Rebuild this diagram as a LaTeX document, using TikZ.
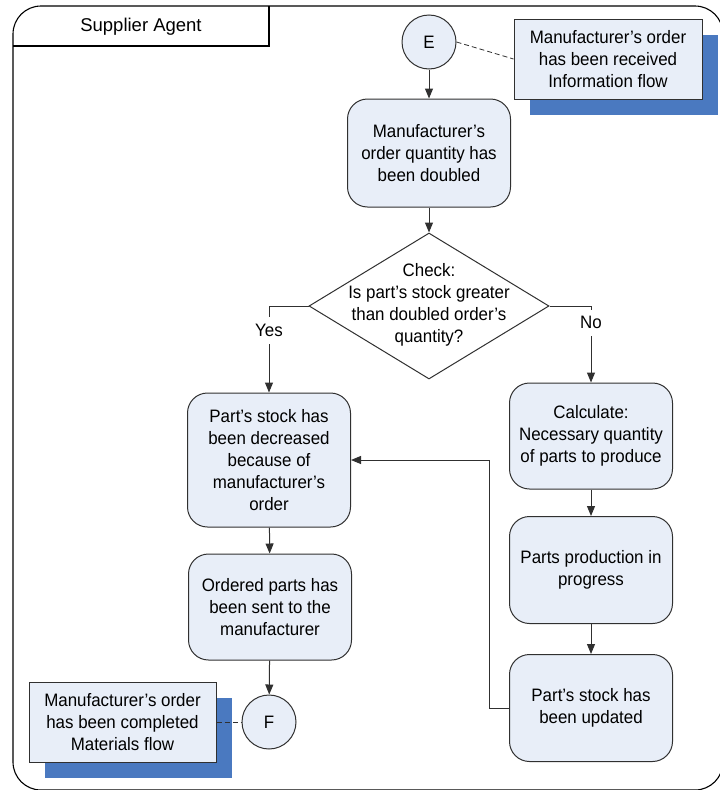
\documentclass[tikz,border=0pt]{standalone}
\usepackage{fontspec}
\setmainfont{Liberation Sans}
\newfontfamily\narrowsans[FakeStretch=0.94]{Liberation Sans}
\usetikzlibrary{arrows.meta,shapes.geometric,shadows}
\definecolor{boxfill}{HTML}{E8EEF8}
\definecolor{boxline}{HTML}{303030}
\definecolor{shadowblue}{HTML}{4A79C0}

\begin{document}
\begin{tikzpicture}[x=1pt,y=-1pt,
  every node/.style={font=\narrowsans\fontsize{18}{22}\selectfont, text=black},
  procbox/.style={draw=boxline, fill=boxfill, rounded corners=20pt, line width=1pt,
    minimum width=163pt, align=center, inner sep=0pt},
  connector/.style={draw=boxline, line width=1pt, circle, fill=boxfill,
    minimum size=54pt, inner sep=0pt},
  callout/.style={draw=boxline, fill=boxfill, line width=1pt, align=center,
    minimum width=188pt, minimum height=80pt, inner sep=0pt,
    drop shadow={shadow xshift=16pt, shadow yshift=-16pt, fill=shadowblue, opacity=1}},
  decision/.style={draw=boxline, fill=white, diamond, line width=1pt,
    minimum width=240pt, minimum height=146pt, inner sep=0pt},
  flow/.style={draw=boxline, line width=1pt, -{Triangle[length=10pt,width=8pt]}},
  note/.style={draw=boxline, line width=0.8pt, dash pattern=on 5pt off 3pt},
  branch/.style={fill=white, inner xsep=2pt, inner ysep=7pt}]

\useasboundingbox (0,0) rectangle (720,790);

% swimlane frame and its title tab
\draw[line width=1.1pt, rounded corners=28pt] (13,6) rectangle (723,790);
\draw[line width=1.1pt] (13,46) -- (269,46) -- (269,6);
\node[font=\fontsize{18.5}{22}\selectfont] (lane) at (141,27) {Supplier Agent};

% start connector and its note
\node[connector] (E) at (429,42) {E};
\node[callout] (noteE) at (608,59) {Manufacturer’s order\\has been received\\Information flow};

% main flow
\node[procbox, minimum height=108pt] (double) at (429,153)
  {Manufacturer’s\\order quantity has\\been doubled};
\node[decision] (check) at (429,306) {};
\node[align=center] (checktext) at (429,305)
  {Check:\\Is part’s stock greater\\than doubled order’s\\quantity?};

\node[procbox, minimum height=134pt] (decrease) at (269,460)
  {Part’s stock has\\been decreased\\because of\\manufacturer’s\\order};
\node[procbox, minimum height=106pt] (sent) at (270,607)
  {Ordered parts has\\been sent to the\\manufacturer};
\node[connector] (F) at (269,722) {F};
\node[callout, minimum width=187pt] (noteF) at (122.5,722)
  {Manufacturer’s order\\has been completed\\Materials flow};

\node[procbox, minimum height=106pt] (calc) at (591,436)
  {Calculate:\\Necessary quantity\\of parts to produce};
\node[procbox, minimum height=107pt] (prod) at (591,570)
  {Parts production in\\progress};
\node[procbox, minimum height=107pt] (upd) at (591,708)
  {Part’s stock has\\been updated};

% connectors
\draw[note] (E.east) -- (noteE.west);
\draw[note] (noteF.east) -- (F.west);
\draw[flow] (E) -- (double);
\draw[flow] (double) -- (check.north);
\draw[flow] (check.west) -| node[branch, pos=0.64] {Yes} (decrease.north);
\draw[flow] (check.east) -| node[branch, pos=0.61] {No} (calc.north);
\draw[flow] (decrease) -- (sent);
\draw[flow] (sent) -- (F);
\draw[flow] (calc) -- (prod);
\draw[flow] (prod) -- (upd);
\draw[flow] (upd.west) -- ++(-20,0) |- (decrease.east);

\end{tikzpicture}
\end{document}
